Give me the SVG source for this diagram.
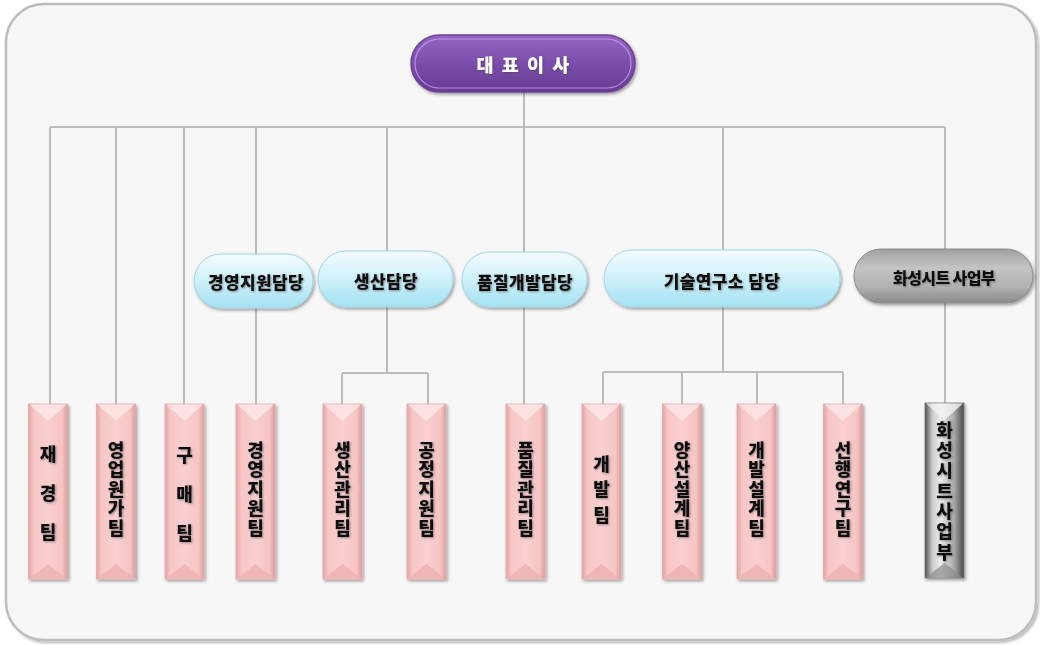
<svg xmlns="http://www.w3.org/2000/svg" xmlns:xlink="http://www.w3.org/1999/xlink" width="1040" height="645" viewBox="0 0 1040 645">
<style>
.conn{stroke:#bcbcbc;stroke-width:2;fill:none}
.t{font-family:"Noto Sans CJK KR","Noto Sans",sans-serif;font-weight:900;text-anchor:middle}
.vt{font-size:18px;fill:#111;writing-mode:vertical-rl;text-anchor:start}
.mt{font-size:17px;fill:#111;letter-spacing:0.4px}
</style>
<defs>
<linearGradient id="pinkH" x1="0" y1="0" x2="1" y2="0">
<stop offset="0" stop-color="#e5a3a3"/>
<stop offset="0.14" stop-color="#f7c7c7"/>
<stop offset="0.5" stop-color="#facfcf"/>
<stop offset="0.86" stop-color="#f6c4c4"/>
<stop offset="1" stop-color="#dc9c9c"/>
</linearGradient>
<linearGradient id="grayH" x1="0" y1="0" x2="1" y2="0">
<stop offset="0" stop-color="#555"/>
<stop offset="0.2" stop-color="#cfcfcf"/>
<stop offset="0.4" stop-color="#ececec"/>
<stop offset="0.75" stop-color="#a8a8a8"/>
<stop offset="1" stop-color="#484848"/>
</linearGradient>
<linearGradient id="cyanV" x1="0" y1="0" x2="0" y2="1">
<stop offset="0" stop-color="#f4fcfe"/>
<stop offset="0.45" stop-color="#d2f2fb"/>
<stop offset="1" stop-color="#a4e1f2"/>
</linearGradient>
<linearGradient id="grayV" x1="0" y1="0" x2="0" y2="1">
<stop offset="0" stop-color="#a0a0a0"/>
<stop offset="0.35" stop-color="#c4c4c4"/>
<stop offset="0.7" stop-color="#b2b2b2"/>
<stop offset="1" stop-color="#8a8a8a"/>
</linearGradient>
<linearGradient id="purpV" x1="0" y1="0" x2="0" y2="1">
<stop offset="0" stop-color="#9468c2"/>
<stop offset="0.5" stop-color="#7a4eaa"/>
<stop offset="1" stop-color="#663b93"/>
</linearGradient>
<filter id="sh" x="-20%" y="-20%" width="140%" height="160%">
<feDropShadow dx="1.5" dy="2" stdDeviation="1.5" flood-color="#000" flood-opacity="0.35"/>
</filter>
<filter id="fsh" x="-5%" y="-5%" width="110%" height="110%">
<feDropShadow dx="2" dy="2" stdDeviation="1.2" flood-color="#000" flood-opacity="0.25"/>
</filter>
<filter id="tsh" x="-20%" y="-20%" width="140%" height="140%">
<feDropShadow dx="1" dy="1" stdDeviation="0.8" flood-color="#444" flood-opacity="0.55"/>
</filter>
<g id="pinkBox">
<rect x="0" y="0" width="39" height="175" fill="url(#pinkH)" stroke="#e3aaaa" stroke-width="0.8"/>
<polygon points="1,0.5 38,0.5 19.5,17" fill="#fde4e4" opacity="0.9"/>
<polygon points="1,174.5 38,174.5 19.5,160" fill="#eeb3b3" opacity="0.9"/>
</g>
<g id="grayBox">
<rect x="0" y="0" width="39" height="175" fill="url(#grayH)" stroke="#777" stroke-width="0.8"/>
<polygon points="1,0.5 38,0.5 19.5,17" fill="#f2f2f2" opacity="0.8"/>
<polygon points="1,174.5 38,174.5 19.5,160" fill="#8a8a8a" opacity="0.7"/>
</g>
</defs>
<rect x="0" y="0" width="1040" height="645" fill="#ffffff"/>
<rect id="frame" x="6" y="4" width="1030" height="636" rx="38" ry="38" fill="#f7f7f7" stroke="#bdbdbd" stroke-width="2.5" filter="url(#fsh)"/>

<g id="connectors">
<path class="conn" d="M50 127 H945"/>
<path class="conn" d="M524 92 V404"/>
<path class="conn" d="M50 127 V405"/>
<path class="conn" d="M116 127 V404"/>
<path class="conn" d="M184 127 V404"/>
<path class="conn" d="M256 127 V404"/>
<path class="conn" d="M387 127 V373"/>
<path class="conn" d="M342 373 H428 M342 373 V404 M428 373 V404"/>
<path class="conn" d="M723 127 V372"/>
<path class="conn" d="M603 372 H843 M603 372 V404 M682 372 V404 M757 372 V404 M843 372 V404"/>
<path class="conn" d="M945 127 V404"/>
</g>

<g id="ceo">
<rect x="411" y="35" width="224" height="57" rx="28.5" fill="url(#purpV)" stroke="#6e4199" stroke-width="1.5" filter="url(#sh)"/>
<rect x="415" y="39" width="216" height="49" rx="24.5" fill="none" stroke="#c7a2ec" stroke-width="1.2" opacity="0.8"/>
<text class="t" x="524" y="72" font-size="18.5" fill="#ffffff" letter-spacing="2" filter="url(#tsh)">대 표 이 사</text>
</g>

<g id="mgmt-support">
<rect x="194" y="254" width="119" height="54" rx="27" fill="url(#cyanV)" stroke="#9fd6e6" stroke-width="1" filter="url(#sh)"/>
<text class="t mt" x="256" y="289" filter="url(#tsh)">경영지원담당</text>
</g>
<g id="production">
<rect x="318" y="251" width="135" height="56" rx="28" fill="url(#cyanV)" stroke="#9fd6e6" stroke-width="1" filter="url(#sh)"/>
<text class="t mt" x="386" y="288" filter="url(#tsh)">생산담당</text>
</g>
<g id="quality-dev">
<rect x="462" y="252" width="125" height="55" rx="27.5" fill="url(#cyanV)" stroke="#9fd6e6" stroke-width="1" filter="url(#sh)"/>
<text class="t mt" x="525" y="289" filter="url(#tsh)">품질개발담당</text>
</g>
<g id="rnd">
<rect x="604" y="250" width="236" height="57" rx="28.5" fill="url(#cyanV)" stroke="#9fd6e6" stroke-width="1" filter="url(#sh)"/>
<text class="t mt" x="722" y="288" letter-spacing="1.5" filter="url(#tsh)">기술연구소 담당</text>
</g>
<g id="hwaseong-div">
<rect x="854" y="249" width="179" height="54" rx="27" fill="url(#grayV)" stroke="#8a8a8a" stroke-width="1" filter="url(#sh)"/>
<text class="t" x="944" y="284" font-size="16" letter-spacing="-0.6" fill="#111" filter="url(#tsh)">화성시트 사업부</text>
</g>

<g id="finance">
<use xlink:href="#pinkBox" x="28.5" y="404" filter="url(#sh)"/>
<text class="t vt" x="48" y="445" letter-spacing="21" filter="url(#tsh)">재경팀</text>
</g>
<g id="sales-cost">
<use xlink:href="#pinkBox" x="96.5" y="404" filter="url(#sh)"/>
<text class="t vt" x="116" y="441" letter-spacing="1.5" filter="url(#tsh)">영업원가팀</text>
</g>
<g id="purchasing">
<use xlink:href="#pinkBox" x="165" y="404" filter="url(#sh)"/>
<text class="t vt" x="184.5" y="446" letter-spacing="21" filter="url(#tsh)">구매팀</text>
</g>
<g id="mgmt-support-team">
<use xlink:href="#pinkBox" x="236" y="404" filter="url(#sh)"/>
<text class="t vt" x="255.5" y="441" letter-spacing="1.5" filter="url(#tsh)">경영지원팀</text>
</g>
<g id="prod-mgmt">
<use xlink:href="#pinkBox" x="323" y="404" filter="url(#sh)"/>
<text class="t vt" x="342.5" y="441" letter-spacing="1.5" filter="url(#tsh)">생산관리팀</text>
</g>
<g id="process-support">
<use xlink:href="#pinkBox" x="407" y="404" filter="url(#sh)"/>
<text class="t vt" x="426.5" y="441" letter-spacing="1.5" filter="url(#tsh)">공정지원팀</text>
</g>
<g id="quality-mgmt">
<use xlink:href="#pinkBox" x="506" y="404" filter="url(#sh)"/>
<text class="t vt" x="525.5" y="441" letter-spacing="1.5" filter="url(#tsh)">품질관리팀</text>
</g>
<g id="dev">
<use xlink:href="#pinkBox" x="582" y="404" filter="url(#sh)"/>
<text class="t vt" x="601.5" y="455" letter-spacing="7.5" filter="url(#tsh)">개발팀</text>
</g>
<g id="mass-design">
<use xlink:href="#pinkBox" x="662.5" y="404" filter="url(#sh)"/>
<text class="t vt" x="682" y="441" letter-spacing="1.5" filter="url(#tsh)">양산설계팀</text>
</g>
<g id="dev-design">
<use xlink:href="#pinkBox" x="737" y="404" filter="url(#sh)"/>
<text class="t vt" x="756.5" y="441" letter-spacing="1.5" filter="url(#tsh)">개발설계팀</text>
</g>
<g id="advanced-research">
<use xlink:href="#pinkBox" x="823.5" y="404" filter="url(#sh)"/>
<text class="t vt" x="843" y="441" letter-spacing="1.5" filter="url(#tsh)">선행연구팀</text>
</g>
<g id="hwaseong-team">
<use xlink:href="#grayBox" x="925" y="403" filter="url(#sh)"/>
<text class="t vt" x="944.5" y="421" letter-spacing="2.3" filter="url(#tsh)">화성시트사업부</text>
</g>
</svg>
